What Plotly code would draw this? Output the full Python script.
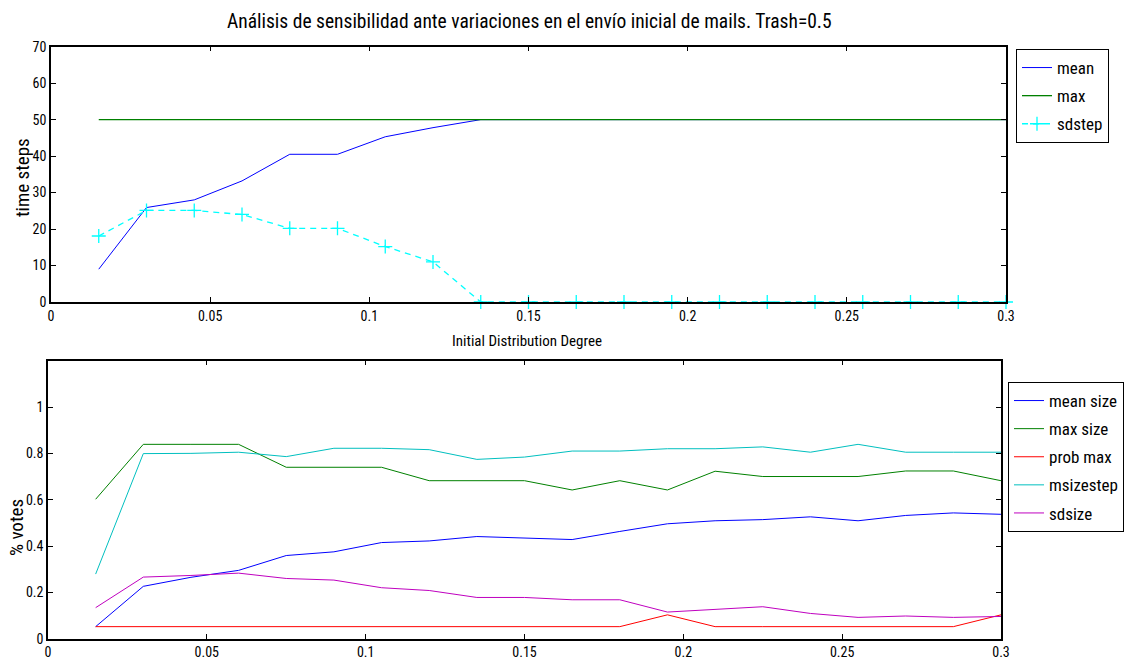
import plotly.graph_objects as go

x_vals = [0.015, 0.03, 0.045, 0.06, 0.075, 0.09, 0.105, 0.12, 0.135, 0.15,
          0.165, 0.18, 0.195, 0.21, 0.225, 0.24, 0.255, 0.27, 0.285, 0.3]

# top panel
mean_steps = [9.0, 25.9, 28.0, 33.2, 40.5, 40.5, 45.3, 47.8, 50, 50,
              50, 50, 50, 50, 50, 50, 50, 50, 50, 50]
max_steps = [50] * 20
sd_steps = [18.1, 25.1, 25.1, 24.0, 20.2, 20.2, 15.2, 11.0, 0, 0,
            0, 0, 0, 0, 0, 0, 0, 0, 0, 0]

# bottom panel
mean_size = [0.052, 0.226, 0.265, 0.295, 0.359, 0.375, 0.415, 0.422, 0.441, 0.434,
             0.428, 0.463, 0.496, 0.509, 0.514, 0.526, 0.509, 0.532, 0.543, 0.537]
max_size = [0.602, 0.839, 0.839, 0.839, 0.740, 0.740, 0.740, 0.682, 0.682, 0.682,
            0.642, 0.682, 0.642, 0.723, 0.700, 0.700, 0.700, 0.724, 0.724, 0.682]
prob_max = [0.052, 0.052, 0.052, 0.052, 0.052, 0.052, 0.052, 0.052, 0.052, 0.052,
            0.052, 0.052, 0.103, 0.052, 0.052, 0.052, 0.052, 0.052, 0.052, 0.103]
msizestep = [0.279, 0.799, 0.800, 0.805, 0.786, 0.822, 0.822, 0.816, 0.774, 0.784,
             0.810, 0.810, 0.820, 0.820, 0.828, 0.805, 0.839, 0.805, 0.805, 0.805]
sdsize = [0.134, 0.266, 0.273, 0.283, 0.260, 0.253, 0.220, 0.208, 0.178, 0.178,
          0.168, 0.168, 0.115, 0.128, 0.138, 0.109, 0.092, 0.098, 0.092, 0.096]

x_ticks = [0, 0.05, 0.1, 0.15, 0.2, 0.25, 0.3]
x_ticktext = ["0", "0.05", "0.1", "0.15", "0.2", "0.25", "0.3"]
y1_ticks = [0, 10, 20, 30, 40, 50, 60, 70]
y2_ticks = [0, 0.2, 0.4, 0.6, 0.8, 1]
y2_ticktext = ["0", "0.2", "0.4", "0.6", "0.8", "1"]

title_text = "Análisis de sensibilidad ante variaciones en el envío inicial de mails. Trash=0.5"

FONT = "Roboto Condensed, Liberation Sans Narrow, sans-serif"
W, H = 1135, 662

fig = go.Figure()

fig.add_trace(go.Scatter(x=x_vals, y=mean_steps, name="mean", mode="lines",
                         line=dict(color="rgb(0,0,255)", width=1),
                         xaxis="x", yaxis="y", legend="legend", legendgroup="a1"))
fig.add_trace(go.Scatter(x=x_vals, y=max_steps, name="max", mode="lines",
                         line=dict(color="rgb(0,128,0)", width=1.3),
                         xaxis="x", yaxis="y", legend="legend", legendgroup="a2"))
fig.add_trace(go.Scatter(x=x_vals, y=sd_steps, name="sdstep", mode="lines+markers",
                         line=dict(color="rgb(0,255,255)", width=1.3, dash="6px,5px"),
                         marker=dict(symbol="cross-thin", size=10,
                                     line=dict(color="rgb(0,255,255)", width=1.3)),
                         xaxis="x", yaxis="y", legend="legend", legendgroup="a3",
                         cliponaxis=False))

bottom_series = [
    ("mean size", mean_size, "rgb(0,0,255)"),
    ("max size", max_size, "rgb(0,128,0)"),
    ("prob max", prob_max, "rgb(255,0,0)"),
    ("msizestep", msizestep, "rgb(0,191,191)"),
    ("sdsize", sdsize, "rgb(191,0,191)"),
]
for i, (name, vals, col) in enumerate(bottom_series):
    fig.add_trace(go.Scatter(x=x_vals, y=vals, name=name, mode="lines",
                             line=dict(color=col, width=1),
                             xaxis="x2", yaxis="y2", legend="legend2",
                             legendgroup="b%d" % i))

def px_x(p):
    return p / W

def px_y(p):
    return 1 - p / H

axis_common = dict(showline=True, linecolor="black", linewidth=1.5, mirror="ticks",
                   ticks="inside", ticklen=5, tickcolor="black", tickwidth=1,
                   showgrid=False, zeroline=False, automargin=False,
                   tickfont=dict(family=FONT, size=14, color="black"))

legend_font = dict(family=FONT, size=17, color="black")

fig.update_layout(
    template="none",
    width=W, height=H,
    margin=dict(l=0, r=0, t=0, b=0, pad=0),
    paper_bgcolor="white", plot_bgcolor="white",
    font=dict(family=FONT, color="black"),
    xaxis=dict(domain=[px_x(51), px_x(1006)], range=[0, 0.3],
               tickvals=x_ticks, ticktext=x_ticktext, anchor="y",
               **axis_common),
    yaxis=dict(domain=[px_y(302), px_y(46.7)], range=[0, 70],
               tickvals=y1_ticks, anchor="x", **axis_common),
    xaxis2=dict(domain=[px_x(48), px_x(1001)], range=[0, 0.3],
                tickvals=x_ticks, ticktext=x_ticktext, anchor="y2",
                **axis_common),
    yaxis2=dict(domain=[px_y(638.7), px_y(360.7)], range=[0, 1.2],
                tickvals=y2_ticks, ticktext=y2_ticktext, anchor="x2",
                **axis_common),
    legend=dict(x=px_x(1016), y=px_y(49), xanchor="left", yanchor="top",
                bordercolor="black", borderwidth=1, bgcolor="white",
                font=legend_font, tracegroupgap=3, itemwidth=30),
    legend2=dict(x=px_x(1008), y=px_y(382), xanchor="left", yanchor="top",
                 bordercolor="black", borderwidth=1, bgcolor="white",
                 font=legend_font, tracegroupgap=3, itemwidth=30),
    showlegend=True,
    annotations=[
        dict(text=title_text, x=px_x(529), y=px_y(21), xref="paper", yref="paper",
             showarrow=False, xanchor="center", yanchor="middle",
             font=dict(family=FONT, size=19.5, color="black")),
        dict(text="Initial Distribution Degree", x=px_x(527), y=px_y(341),
             xref="paper", yref="paper", showarrow=False,
             xanchor="center", yanchor="middle",
             font=dict(family=FONT, size=15, color="black")),
        dict(text="time steps", x=px_x(22), y=px_y(178), xref="paper", yref="paper",
             showarrow=False, textangle=-90, xanchor="center", yanchor="middle",
             font=dict(family=FONT, size=19, color="black")),
        dict(text="% votes", x=px_x(16), y=px_y(528), xref="paper", yref="paper",
             showarrow=False, textangle=-90, xanchor="center", yanchor="middle",
             font=dict(family=FONT, size=19, color="black")),
    ],
)

fig.write_html("out.html")
